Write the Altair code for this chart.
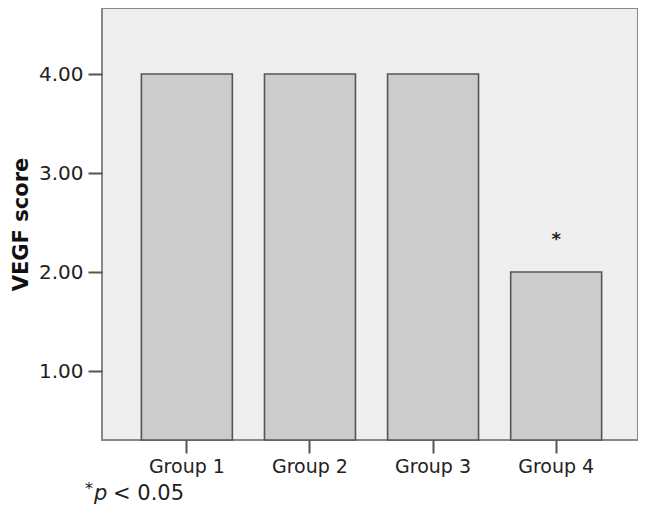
import altair as alt
import pandas as pd

groups = ["Group 1", "Group 2", "Group 3", "Group 4"]
scores = [4.0, 4.0, 4.0, 2.0]
star_group = ["Group 4"]
star_y = [2.36]
y_ticks = [1.0, 2.0, 3.0, 4.0]
Y_MIN, Y_MAX = 0.303, 4.667

df = pd.DataFrame({"group": groups, "score": scores})
sdf = pd.DataFrame({"group": star_group, "y": star_y, "t": ["*"]})

FONT = "DejaVu Sans"

xscale = alt.Scale(paddingInner=0.261, paddingOuter=0.3077, align=0.52)
xenc = alt.X("group:N", sort=groups, title=None, scale=xscale,
             axis=alt.Axis(labelAngle=0, domain=False, ticks=True, tickSize=13,
                           tickColor="#555555", tickWidth=2, labelFontSize=19,
                           labelColor="#222222", labelFont=FONT, labelPadding=4))
yscale = alt.Scale(domain=[Y_MIN, Y_MAX], nice=False, zero=False)

bars = alt.Chart(df).mark_bar(color="#cccccc", stroke="#555555", strokeWidth=1.6).encode(
    x=xenc,
    y=alt.Y("score:Q", scale=yscale, title="VEGF score",
            axis=alt.Axis(values=y_ticks, format=".2f", grid=False, domain=False,
                          tickSize=14, tickColor="#555555", tickWidth=2,
                          labelFontSize=20, labelColor="#222222", labelFont=FONT,
                          labelPadding=5, titleFont=FONT, titleFontSize=21,
                          titleFontWeight="bold", titleColor="#111111", titlePadding=7)),
    y2=alt.datum(Y_MIN),
)

star = alt.Chart(sdf).mark_text(fontSize=18, font=FONT, fontWeight="bold", color="#222222",
                                baseline="middle", dy=4).encode(
    x=alt.X("group:N", sort=groups, scale=xscale),
    y=alt.Y("y:Q", scale=yscale),
    text="t:N",
)

foot_star = alt.Chart(pd.DataFrame({"a": [1]})).mark_text(
    text="*", fontSize=16, font=FONT, color="#222222", align="left", baseline="alphabetic"
).encode(x=alt.value(-17), y=alt.value(486))
foot_p = alt.Chart(pd.DataFrame({"a": [1]})).mark_text(
    text="p", fontSize=21, font=FONT, fontStyle="italic", color="#222222", align="left", baseline="alphabetic"
).encode(x=alt.value(-8), y=alt.value(492))
foot_rest = alt.Chart(pd.DataFrame({"a": [1]})).mark_text(
    text="< 0.05", fontSize=21, font=FONT, color="#222222", align="left", baseline="alphabetic"
).encode(x=alt.value(11), y=alt.value(492))

chart = alt.layer(bars, star, foot_star, foot_p, foot_rest).properties(
    width=536, height=432,
    autosize=alt.AutoSizeParams(type="none"),
    padding={"left": 94, "top": 0, "right": 0, "bottom": 65},
).configure_view(fill="#efefef", stroke="#888888", strokeWidth=2)

chart.save("out.html", embed_options={"renderer": "svg", "actions": False})
